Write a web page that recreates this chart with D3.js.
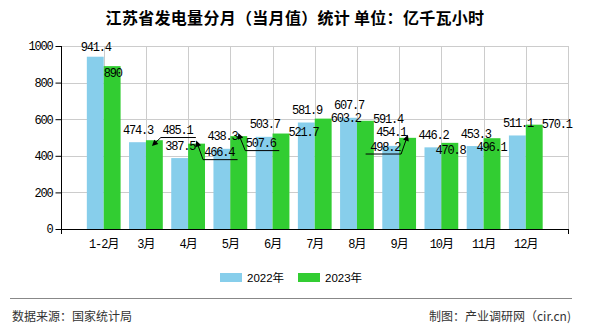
<!DOCTYPE html>
<html>
<head>
<meta charset="utf-8">
<script src="https://cdn.jsdelivr.net/npm/d3@7/dist/d3.min.js"></script>
<style>
  html, body { margin: 0; padding: 0; background: #fff; }
  svg { display: block; }
</style>
</head>
<body>
<svg id="chart" width="590" height="330"></svg>
<script>
// ---- data ----
const categories = ["1-2月", "3月", "4月", "5月", "6月", "7月", "8月", "9月", "10月", "11月", "12月"];
const values2022 = [941.4, 474.3, 387.5, 438.3, 503.7, 581.9, 607.7, 454.1, 446.2, 453.3, 511.1];
const values2023 = [890, 485.1, 466.4, 507.6, 521.7, 603.2, 591.4, 498.2, 470.8, 496.1, 570.1];
const seriesNames = ["2022年", "2023年"];
const yTicks = [0, 200, 400, 600, 800, 1000];
const titleText = "江苏省发电量分月（当月值）统计 单位：亿千瓦小时";
const sourceText = "数据来源：国家统计局";
const creditText = "制图：产业调研网（cir.cn)";

// ---- label layout adjustments (pixel offsets from the default spot above each bar) ----
const labelShift2022 = {0: [0, 2.5], 7: [0, -1]};
const labelShift2023 = {
  0: [0, 19.5],
  1: [22.5, 2.3, true],
  2: [22, 21, true],
  3: [21.5, 19.5, true],
  4: [22, 11],
  5: [22, 12],
  6: [22, 10.3],
  7: [-23, 21.2, true],
  8: [0, 20],
  9: [-1, 21],
  10: [22, 12]
};

const colors = ["#87CEEB", "#32CD32"];
const svg = d3.select("#chart");

const plotL = 61.5, plotR = 568, plotT = 46, plotB = 229;
const x = d3.scalePoint().domain(categories).range([plotL, plotR]).padding(1);
const y = d3.scaleLinear().domain([0, 1000]).range([plotB, plotT]);
const barW = x.step() * 0.4;

// title
svg.append("text")
  .attr("x", 295).attr("y", 24)
  .attr("text-anchor", "middle")
  .attr("font-family", "'Noto Sans CJK SC', sans-serif")
  .attr("font-size", 16).attr("font-weight", "bold")
  .attr("letter-spacing", "0.3px")
  .attr("fill", "#000")
  .text(titleText);

// gridlines
const grid = svg.append("g");
grid.selectAll("line.h").data(yTicks.filter(d => d > 0)).enter().append("line")
  .attr("x1", plotL).attr("x2", plotR)
  .attr("y1", d => Math.round(y(d)) + 0.5).attr("y2", d => Math.round(y(d)) + 0.5)
  .attr("stroke", "#cccccc").attr("stroke-width", 1);
const vgrid = categories.map(c => x(c)).concat([plotR]);
grid.selectAll("line.v").data(vgrid).enter().append("line")
  .attr("x1", d => Math.round(d) + 0.5).attr("x2", d => Math.round(d) + 0.5)
  .attr("y1", plotT).attr("y2", plotB)
  .attr("stroke", "#cccccc").attr("stroke-width", 1);

// bars
const bars = svg.append("g");
[values2022, values2023].forEach((vals, si) => {
  bars.selectAll("rect.s" + si).data(vals).enter().append("rect")
    .attr("class", "s" + si)
    .attr("x", (d, i) => x(categories[i]) + (si === 0 ? -barW : 0))
    .attr("width", barW)
    .attr("y", d => y(d))
    .attr("height", d => plotB - y(d))
    .attr("fill", colors[si]);
});

// axes
const yAxis = d3.axisLeft(y).tickValues(yTicks).tickSize(6).tickPadding(3).tickFormat(d3.format("d"));
const yg = svg.append("g").attr("transform", `translate(${plotL},0)`).call(yAxis);
yg.select(".domain").attr("d", `M0,${plotT}V${plotB + 5}`).attr("stroke", "#000");
yg.selectAll(".tick line").attr("stroke", "#000");
yg.selectAll("text")
  .attr("font-family", "'Liberation Mono', monospace")
  .attr("font-size", 12).attr("letter-spacing", "-1.2px").attr("fill", "#000");

const xg = svg.append("g");
xg.append("line").attr("x1", plotL).attr("x2", plotR + 0.5).attr("y1", plotB + 0.5).attr("y2", plotB + 0.5)
  .attr("stroke", "#000");
xg.append("line").attr("x1", plotR + 0.5).attr("x2", plotR + 0.5).attr("y1", plotB).attr("y2", plotB + 5)
  .attr("stroke", "#000");
xg.selectAll("text").data(categories).enter().append("text")
  .attr("x", d => x(d)).attr("y", 248)
  .attr("text-anchor", "middle")
  .attr("font-family", "'Liberation Mono', 'Noto Sans CJK SC', monospace")
  .attr("font-size", 12).attr("letter-spacing", "-1px").attr("fill", "#000")
  .text(d => d);

// arrow marker
svg.append("defs").append("marker")
  .attr("id", "arrow").attr("viewBox", "0 0 10 10")
  .attr("refX", 1).attr("refY", 5)
  .attr("markerWidth", 9).attr("markerHeight", 6)
  .attr("markerUnits", "userSpaceOnUse")
  .attr("orient", "auto-start-reverse")
  .append("path").attr("d", "M0,0L10,5L0,10z").attr("fill", "#000");

// value labels
const labels = svg.append("g");
const charW = 6;
[values2022, values2023].forEach((vals, si) => {
  const shifts = si === 0 ? labelShift2022 : labelShift2023;
  vals.forEach((v, i) => {
    const cx = x(categories[i]) + (si === 0 ? -barW / 2 : barW / 2);
    const topY = y(v);
    const sh = shifts[i] || [0, 0];
    const lx = cx + sh[0];
    const ly = topY - 8.5 + sh[1];
    const txt = String(v);
    labels.append("text")
      .attr("x", lx + 0.6).attr("y", ly)
      .attr("text-anchor", "middle")
      .attr("font-family", "'Liberation Mono', monospace")
      .attr("font-size", 12).attr("letter-spacing", "-1.2px")
      .attr("fill", "#000")
      .text(txt);
    if (sh[2]) {
      const dir = sh[0] > 0 ? 1 : -1;
      const halfW = txt.length * charW / 2;
      const tip = [cx + dir * 1.5, topY + 2];
      const lineY = ly + 3.5;
      const far = lx + dir * (halfW + 4);
      const path = d3.path();
      path.moveTo(tip[0], tip[1]);
      path.lineTo(tip[0] + dir * 5, lineY);
      path.lineTo(far, lineY);
      labels.append("path")
        .attr("d", path.toString())
        .attr("fill", "none").attr("stroke", "#000").attr("stroke-width", 1)
        .attr("marker-start", "url(#arrow)");
    }
  });
});

// legend
const legend = svg.append("g");
const legendX = [220, 298];
seriesNames.forEach((name, i) => {
  legend.append("rect").attr("x", legendX[i]).attr("y", 273).attr("width", 22).attr("height", 9)
    .attr("fill", colors[i]);
  legend.append("text").attr("x", legendX[i] + 27).attr("y", 282)
    .attr("font-family", "'Liberation Sans', 'Noto Sans CJK SC', sans-serif")
    .attr("font-size", 11.5).attr("fill", "#000")
    .text(name);
});

// footer
svg.append("line").attr("x1", 10).attr("x2", 572).attr("y1", 298.5).attr("y2", 298.5)
  .attr("stroke", "#888").attr("stroke-width", 1);
svg.append("text").attr("x", 12).attr("y", 321)
  .attr("font-family", "'Noto Sans CJK SC', sans-serif")
  .attr("font-size", 12).attr("fill", "#333")
  .text(sourceText);
svg.append("text").attr("x", 571).attr("y", 321).attr("text-anchor", "end")
  .attr("font-family", "'Noto Sans CJK SC', sans-serif")
  .attr("font-size", 12).attr("fill", "#333")
  .text(creditText);
</script>
</body>
</html>
